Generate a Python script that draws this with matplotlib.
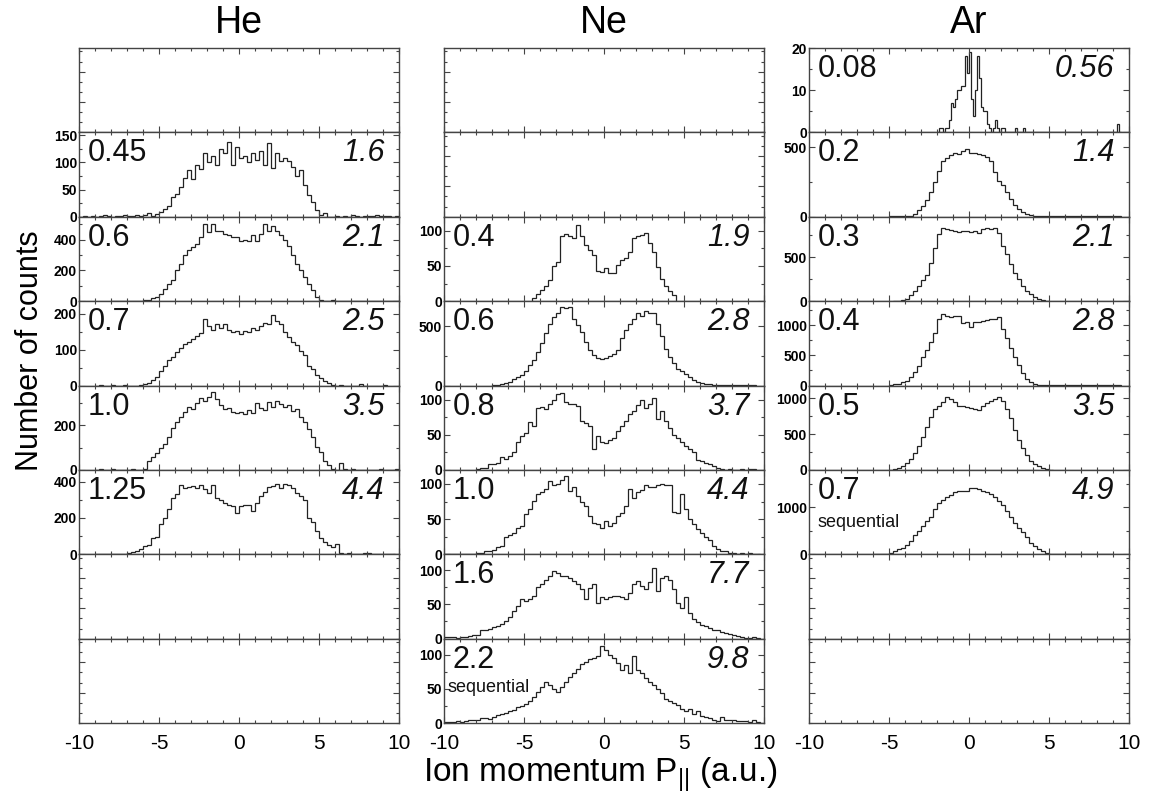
import numpy as np
import matplotlib
matplotlib.use("Agg")
import matplotlib.pyplot as plt
from matplotlib.ticker import MultipleLocator, AutoMinorLocator

plt.rcParams["font.family"] = ["Liberation Sans", "DejaVu Sans"]
plt.rcParams["mathtext.fontset"] = "custom"
plt.rcParams["mathtext.rm"] = "Liberation Sans"
plt.rcParams["mathtext.default"] = "regular"
plt.rcParams["axes.unicode_minus"] = False

atoms = ["He", "Ne", "Ar"]

# ---- He ----------------------------------------------------------------
he_045_start = -10.0
he_045 = [0, 1, 0, 2, 0, 1, 3, 1, 0, 2, 1, 3, 2, 1, 4, 2, 3, 6, 2, 5,
          8, 14, 20, 36, 42, 55, 72, 85, 70, 95, 88, 118, 100, 112, 95,
          125, 118, 137, 95, 128, 108, 112, 100, 118, 105, 120, 95, 135,
          90, 118, 102, 108, 102, 92, 75, 85, 58, 40, 28, 12, 3, 6,
          0, 0, 2, 0, 1, 0, 3, 1, 0, 2, 2, 1, 3, 2, 1, 2, 0, 1]
he_06_start = -8.0
he_06 = [0, 2, 0, 3, 1, 2, 4, 3,
         5, 8, 20, 30, 45, 80, 110, 140, 200, 240, 300, 330, 355, 370,
         420, 505, 450, 500, 455, 460, 440, 430, 420, 415, 395, 400, 390,
         430, 395, 440, 500, 455, 490, 460, 430, 400, 360, 300, 240, 200,
         160, 110, 70, 30, 8, 4, 3, 5, 2,
         0, 1, 0, 2, 0, 0, 3, 0, 1, 0, 2, 0, 1, 0, 0, 2]
he_07_start = -9.0
he_07 = [0, 2, 0, 0, 1, 0, 0, 2, 0, 0, 0,
         2, 4, 8, 16, 25, 40, 55, 70, 80, 92, 105, 115, 120, 130, 138,
         145, 185, 165, 155, 170, 160, 170, 155, 150, 152, 143, 152, 148,
         160, 155, 165, 175, 170, 195, 180, 170, 150, 135, 120, 112, 95,
         85, 55, 45, 28, 22, 12, 6, 2, 0, 2, 0, 0, 0, 0, 3, 0, 0, 0, 0,
         0, 2]
he_10_start = -9.0
he_10 = [0, 2, 0, 0, 3, 0, 1, 0, 0, 2, 0, 0,
         5, 40, 60, 75, 100, 118, 150, 190, 215, 240, 260, 285, 275, 300,
         325, 310, 330, 350, 320, 290, 275, 280, 262, 255, 260, 250, 270,
         255, 300, 280, 270, 305, 285, 312, 295, 285, 290, 265, 275, 240,
         215, 185, 150, 105, 80, 40, 20, 5, 0, 30, 2, 0, 2, 0, 0, 1, 0,
         0, 0, 2, 0, 0, 0, 3, 2, 0]
he_125_start = -9.0
he_125 = [0, 0, 2, 0, 0, 0, 1, 0,
          5, 15, 18, 30, 45, 50, 90, 95, 165, 200, 250, 310, 330, 380,
          365, 370, 375, 365, 380, 360, 340, 380, 310, 300, 280, 270, 265,
          230, 265, 270, 270, 240, 280, 320, 345, 370, 375, 385, 365, 385,
          380, 365, 340, 320, 300, 200, 180, 130, 90, 70, 50, 40, 55, 5,
          4, 6, 0, 0, 0, 5, 5, 0, 3, 0, 0, 4, 0]

# ---- Ne ----------------------------------------------------------------
ne_04_start = -4.5
ne_04 = [4, 10, 16, 22, 30, 50, 55, 92, 96, 93, 90, 108, 92, 80, 72, 65,
         43, 42, 47, 40, 40, 52, 58, 62, 70, 90, 92, 94, 97, 82, 70, 48,
         32, 22, 15, 8]
ne_06_start = -7.0
ne_06 = [3, 6, 10, 18, 30, 55, 70, 90, 125, 170, 215, 280, 360, 440, 520,
         580, 610, 665, 655, 665, 560, 510, 450, 370, 300, 255, 235, 225,
         232, 250, 265, 300, 400, 470, 520, 560, 610, 590, 625, 615, 610,
         520, 420, 310, 240, 190, 140, 120, 95, 70, 45, 30, 22, 14, 10, 6,
         4, 3, 2, 2, 1, 2, 1, 2, 1, 2]
ne_08_start = -8.0
ne_08 = [1, 2, 3, 8, 8, 10, 19, 15, 20, 26, 40, 48, 53, 68, 62, 88, 90, 86,
         94, 100, 108, 110, 96, 94, 94, 91, 70, 66, 62, 30, 48, 40, 38, 42,
         46, 56, 62, 70, 80, 84, 92, 100, 88, 94, 102, 72, 84, 70, 60, 50,
         45, 40, 34, 30, 25, 14, 12, 10, 8, 5, 2, 1, 0, 1, 0, 0, 1, 0, 1, 1]
ne_10_start = -10.0
ne_10 = [0, 1, 1, 0, 1, 1, 1, 1, 2, 2, 4, 5, 6, 10, 12, 24, 28, 30, 38, 40,
         57, 64, 76, 85, 88, 93, 104, 98, 100, 105, 112, 90, 95, 83, 75,
         68, 55, 45, 43, 38, 48, 40, 44, 55, 58, 68, 93, 80, 88, 92, 98,
         95, 96, 98, 100, 99, 98, 60, 58, 86, 64, 50, 43, 36, 30, 24, 20,
         12, 8, 5, 4, 2, 2, 1, 2, 1, 2, 1, 1]
ne_16_start = -10.0
ne_16 = [2, 3, 2, 1, 3, 3, 4, 6, 6, 12, 13, 14, 17, 19, 22, 26, 32, 40, 48,
         58, 55, 58, 62, 75, 80, 86, 92, 99, 95, 92, 91, 88, 84, 80, 72, 58,
         74, 80, 52, 60, 58, 60, 62, 62, 60, 58, 66, 80, 84, 76, 72, 82,
         103, 70, 88, 92, 86, 72, 52, 44, 60, 38, 28, 24, 20, 18, 15, 13,
         12, 10, 8, 7, 6, 4, 2, 1, 1, 2, 1]
ne_22_start = -10.0
ne_22 = [1, 2, 2, 3, 2, 3, 4, 4, 5, 7, 8, 6, 9, 12, 13, 15, 17, 19, 23, 25,
         28, 32, 38, 45, 53, 60, 56, 50, 46, 53, 60, 68, 74, 80, 86, 90, 94,
         96, 98, 113, 108, 100, 96, 88, 78, 85, 73, 98, 78, 73, 66, 60, 56,
         50, 44, 36, 32, 30, 26, 20, 18, 20, 13, 17, 10, 9, 8, 5, 3, 9, 5,
         5, 4, 3, 3, 3, 2, 4, 1, 0]

# ---- Ar ----------------------------------------------------------------
ar_008_start = -2.0  # finer bins (0.125)
ar_008 = [0, 1, 1, 0, 1, 1, 3, 7, 6, 8, 10, 10, 11, 11, 18, 14,
          19, 8, 4, 10, 18, 13, 6, 5, 5, 2, 1, 0, 1, 3, 1, 0,
          1, 1, 0, 0, 0, 0, 0, 1, 0, 0, 0, 1,
          0, 0, 0, 0, 0, 0, 0, 0, 0, 0, 0, 0, 0, 0, 0, 0,
          0, 0, 0, 0, 0, 0, 0, 0, 0, 0, 0, 0, 0, 0, 0, 0,
          0, 0, 0, 0, 0, 0, 0, 0, 0, 0, 0, 0, 0, 0, 2, 0]
ar_02_start = -5.0
ar_02 = [2, 3, 4, 5, 5, 8, 20, 45, 80, 120, 175, 250, 330, 400, 425, 440,
         455, 450, 470, 490, 460, 455, 448, 440, 430, 400, 320, 260, 225,
         180, 130, 85, 55, 35, 20, 10, 6, 4, 3, 4, 2, 3, 2, 3, 2, 2, 3, 2,
         2, 3, 2, 2, 3, 2, 2, 3, 2, 2]
ar_03_start = -4.75
ar_03 = [3, 5, 10, 25, 70, 120, 170, 240, 300, 430, 600, 760, 830, 820, 810,
         800, 790, 795, 800, 790, 795, 780, 815, 830, 815, 830, 780, 630,
         540, 420, 320, 250, 175, 120, 80, 50, 25, 10, 3]
ar_04_start = -5.0
ar_04 = [10, 18, 30, 50, 80, 140, 220, 330, 470, 590, 730, 870, 1100, 1180,
         1150, 1140, 1150, 1145, 1030, 1060, 970, 1050, 1060, 1070, 1085,
         1100, 1110, 1130, 945, 780, 620, 470, 335, 200, 110, 60, 30, 15, 8,
         5, 3, 2, 2, 3, 2, 2, 3, 2, 2, 3, 2, 2, 3, 2, 2, 3, 2, 2]
ar_05_start = -5.0
ar_05 = [5, 12, 30, 55, 95, 150, 230, 330, 460, 600, 740, 850, 900, 945,
         1020, 990, 950, 890, 895, 880, 860, 850, 840, 900, 940, 970, 990,
         1015, 960, 850, 720, 560, 420, 300, 210, 130, 85, 50, 25, 10, 3]
ar_07_start = -6.0
ar_07 = [5, 5, 5, 8, 30, 60, 110, 140, 200, 290, 420, 500, 600, 700, 800,
         960, 1100, 1150, 1220, 1260, 1320, 1350, 1360, 1360, 1410, 1415,
         1400, 1345, 1320, 1280, 1220, 1140, 1050, 930, 800, 660, 560, 470,
         360, 250, 170, 110, 60, 35, 15, 8, 5, 4, 5, 3, 4, 3, 5, 3, 2, 4, 5,
         3, 4, 3]

# intensity (left) and Keldysh-like value (right, italic) per row
he_labels = [None, ("0.45", "1.6"), ("0.6", "2.1"), ("0.7", "2.5"),
             ("1.0", "3.5"), ("1.25", "4.4"), None, None]
ne_labels = [None, None, ("0.4", "1.9"), ("0.6", "2.8"), ("0.8", "3.7"),
             ("1.0", "4.4"), ("1.6", "7.7"), ("2.2", "9.8")]
ar_labels = [("0.08", "0.56"), ("0.2", "1.4"), ("0.3", "2.1"),
             ("0.4", "2.8"), ("0.5", "3.5"), ("0.7", "4.9"), None, None]

he_series = [None, (he_045, he_045_start, 0.25), (he_06, he_06_start, 0.25),
             (he_07, he_07_start, 0.25), (he_10, he_10_start, 0.25),
             (he_125, he_125_start, 0.25), None, None]
ne_series = [None, None, (ne_04, ne_04_start, 0.25), (ne_06, ne_06_start, 0.25),
             (ne_08, ne_08_start, 0.25), (ne_10, ne_10_start, 0.25),
             (ne_16, ne_16_start, 0.25), (ne_22, ne_22_start, 0.25)]
ar_series = [(ar_008, ar_008_start, 0.125), (ar_02, ar_02_start, 0.25),
             (ar_03, ar_03_start, 0.25), (ar_04, ar_04_start, 0.25),
             (ar_05, ar_05_start, 0.25), (ar_07, ar_07_start, 0.25),
             None, None]

# axis ranges: (ymax, major tick step)
he_yaxis = [None, (155, 50), (550, 200), (235, 100), (380, 200), (465, 200), None, None]
ne_yaxis = [None, None, (120, 50), (712, 500), (120, 50), (120, 50), (123, 50), (124, 50)]
ar_yaxis = [(20, 10), (606, 500), (960, 500), (1400, 500), (1180, 500), (1800, 1000), None, None]

sequential = {(1, 7), (2, 5)}

columns = [(he_series, he_labels, he_yaxis),
           (ne_series, ne_labels, ne_yaxis),
           (ar_series, ar_labels, ar_yaxis)]

W, H = 1153, 799
fig, axs = plt.subplots(8, 3, figsize=(W / 100, H / 100), dpi=100, sharex=True)
fig.subplots_adjust(left=79 / W, right=1129 / W, top=1 - 48 / H,
                    bottom=1 - 723 / H, wspace=45 / 320, hspace=0)

line_c = "#222222"
axis_c = "#444444"
text_c = "#111111"

for c, (series, labels, yaxis) in enumerate(columns):
    for r in range(8):
        ax = axs[r, c]
        ax.set_xlim(-10, 10)
        for sp in ax.spines.values():
            sp.set_color(axis_c)
            sp.set_linewidth(1.0)
        ax.tick_params(which="both", direction="in", top=True, right=True,
                       color=axis_c, width=0.8)
        ax.tick_params(which="major", length=4)
        ax.tick_params(which="minor", length=2)
        ax.tick_params(axis="y", labelsize=10, pad=1.5)
        if series[r] is not None:
            vals, start, width = series[r]
            edges = start + width * np.arange(len(vals) + 1)
            ax.stairs(vals, edges, color=line_c, lw=0.9, baseline=0)
        if yaxis[r] is not None:
            ymax, step = yaxis[r]
            ax.set_ylim(0, ymax)
            ax.yaxis.set_major_locator(MultipleLocator(step))
            ax.yaxis.set_minor_locator(AutoMinorLocator(2))
            ax.yaxis.set_major_formatter(plt.FormatStrFormatter("%d"))
            for lab in ax.get_yticklabels():
                lab.set_fontweight("bold")
        else:
            ax.set_ylim(0, 1)
            ax.set_yticks([0.36, 0.72])
            ax.yaxis.set_minor_locator(MultipleLocator(0.12))
            ax.set_yticklabels([])
        if labels[r] is not None:
            left, right = labels[r]
            ax.text(0.028, 0.75, left, transform=ax.transAxes, fontsize=22,
                    ha="left", va="center", color=text_c)
            ax.text(0.955, 0.75, right, transform=ax.transAxes, fontsize=22,
                    ha="right", va="center", style="italic", color=text_c)
        if (c, r) in sequential:
            ax.text(0.012 if c == 1 else 0.028, 0.42 if c == 1 else 0.38,
                    "sequential", transform=ax.transAxes, fontsize=13,
                    ha="left", va="center", color=text_c)

axs[0, 0].xaxis.set_major_locator(MultipleLocator(5))
axs[0, 0].xaxis.set_minor_locator(MultipleLocator(1))
for c in range(3):
    axs[7, c].tick_params(axis="x", labelsize=15, pad=8)

col_centers = [239, 603.5, 969]
for name, xc in zip(atoms, col_centers):
    fig.text(xc / W, 1 - 23 / H, name, fontsize=27, ha="center", va="center")

fig.text(30 / W, 1 - 351 / H, "Number of counts", rotation=90,
         fontsize=22, ha="center", va="center")
fig.text(600 / W, 1 - 782 / H, r"Ion momentum P$_{||}$ (a.u.)",
         fontsize=24, ha="center", va="baseline")

fig.savefig("out.png", dpi=100)
